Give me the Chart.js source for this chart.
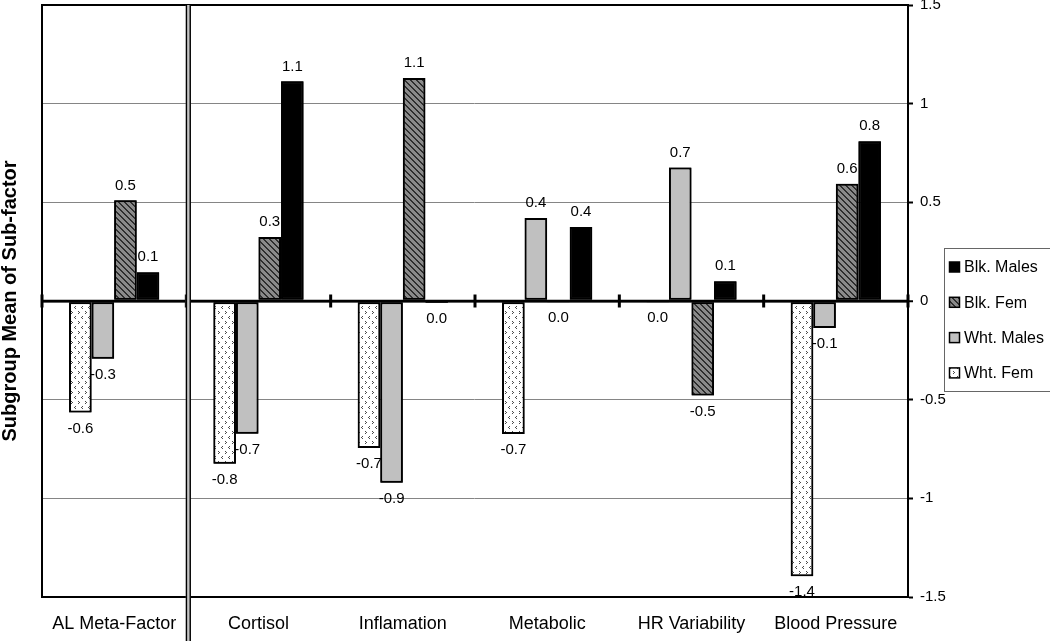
<!DOCTYPE html>
<html><head><meta charset="utf-8">
<script src="https://cdn.jsdelivr.net/npm/chart.js@4/dist/chart.umd.min.js"></script>
<style>html,body{margin:0;padding:0;background:#fff;}</style>
</head><body>
<canvas id="c" width="1050" height="641"></canvas>
<script>
// ---- data ----
const categories = ['AL Meta-Factor', 'Cortisol', 'Inflamation', 'Metabolic', 'HR Variability', 'Blood Pressure'];
const whtFem   = [-0.565, -0.825, -0.745, -0.674, -0.002, -1.395];
const whtMales = [-0.293, -0.673, -0.921,  0.421,  0.676, -0.137];
const blkFem   = [ 0.51,   0.324,  1.13,  -0.005, -0.479,  0.594];
const blkMales = [ 0.146,  1.113, -0.01,   0.375,  0.1,    0.81];
const yTicks = [-1.5, -1, -0.5, 0, 0.5, 1, 1.5];
const legendOrder = ['Blk. Males', 'Blk. Fem', 'Wht. Males', 'Wht. Fem'];
const yTitle = 'Subgroup Mean of Sub-factor';

const FAMILY = '"Liberation Sans", Arial, Helvetica, sans-serif';
const canvas = document.getElementById('c');
const ctx0 = canvas.getContext('2d');

function makePattern(w, h, draw) {
  const t = document.createElement('canvas');
  t.width = w; t.height = h;
  const g = t.getContext('2d');
  draw(g, w, h);
  return ctx0.createPattern(t, 'repeat');
}
// white with small chevrons
const patWF = makePattern(7, 10, (g, w, h) => {
  g.fillStyle = '#fff'; g.fillRect(0, 0, w, h);
  g.fillStyle = '#4a4a4a';
  g.fillRect(1, 1, 1, 1); g.fillRect(2, 2, 1, 1); g.fillRect(1, 3, 1, 1);
  g.fillRect(5, 6, 1, 1); g.fillRect(4, 7, 1, 1); g.fillRect(5, 8, 1, 1);
});
// gray with dark "\" stripes
const patBF = makePattern(6, 6, (g, w, h) => {
  g.fillStyle = '#8a8a8a'; g.fillRect(0, 0, w, h);
  g.fillStyle = '#2e2e2e';
  for (let yy = 0; yy < h; yy++) for (let xx = 0; xx < w; xx++) {
    const d = ((xx - yy) % 6 + 6) % 6;
    if (d === 0 || d === 1) g.fillRect(xx, yy, 1, 1);
  }
});

function fmt(v) {
  let s = v.toFixed(1);
  if (s === '-0.0') s = '0.0';
  return s;
}

const customPlugin = {
  id: 'custom',
  afterDatasetsDraw(chart) {
    const { ctx, chartArea: a, scales: { x, y } } = chart;
    const n = chart.data.datasets.length;
    ctx.save();
    for (let i = 0; i < n; i++) {
      const meta = chart.getDatasetMeta(i);
      meta.controller.draw();
      ctx.font = '15px ' + FAMILY;
      ctx.fillStyle = '#000';
      ctx.textAlign = 'center';
      ctx.textBaseline = 'middle';
      meta.data.forEach((el, j) => {
        const v = chart.data.datasets[i].data[j];
        const yy = v >= 0 ? el.y - 15 : el.y + 16;
        ctx.fillText(fmt(v), el.x, yy);
      });
    }
    // zero line with category ticks
    const y0 = y.getPixelForValue(0);
    ctx.strokeStyle = '#000';
    ctx.lineWidth = 2.5;
    ctx.beginPath(); ctx.moveTo(a.left, y0); ctx.lineTo(a.right, y0); ctx.stroke();
    const step = x.getPixelForValue(1) - x.getPixelForValue(0);
    ctx.lineWidth = 3;
    for (let k = 0; k <= categories.length; k++) {
      const bx = x.getPixelForValue(0) - step / 2 + k * step;
      ctx.beginPath(); ctx.moveTo(bx, y0 - 6.5); ctx.lineTo(bx, y0 + 6.5); ctx.stroke();
    }
    ctx.restore();
  },
  afterDraw(chart) {
    const { ctx, chartArea: a, scales: { x } } = chart;
    ctx.save();
    // plot border
    ctx.strokeStyle = '#000';
    ctx.lineWidth = 2;
    ctx.strokeRect(a.left, a.top, a.right - a.left, a.bottom - a.top);
    // double separator line after first category
    const step = x.getPixelForValue(1) - x.getPixelForValue(0);
    const sx = x.getPixelForValue(0) + step / 2 + 2;
    ctx.fillStyle = '#c4c4c4';
    ctx.fillRect(sx - 2.5, a.top, 5, chart.height - a.top);
    ctx.fillStyle = '#000';
    ctx.fillRect(sx - 2.6, a.top, 1.4, chart.height - a.top);
    ctx.fillRect(sx + 1.2, a.top, 1.4, chart.height - a.top);
    // y title (left)
    ctx.translate(10, (a.top + a.bottom) / 2);
    ctx.rotate(-Math.PI / 2);
    ctx.font = 'bold 20px ' + FAMILY;
    ctx.fillStyle = '#000';
    ctx.textAlign = 'center';
    ctx.textBaseline = 'middle';
    ctx.fillText(yTitle, 0, 0);
    ctx.setTransform(1, 0, 0, 1, 0, 0);
    // legend
    const lx = a.right + 36, ly = 248, lw = 106, lh = 143;
    ctx.strokeStyle = '#666';
    ctx.lineWidth = 1;
    ctx.strokeRect(lx + 0.5, ly + 0.5, lw, lh);
    ctx.font = '16px ' + FAMILY;
    ctx.textAlign = 'left';
    ctx.textBaseline = 'middle';
    legendOrder.forEach((name, k) => {
      const ds = chart.data.datasets.find(d => d.label === name);
      const cy = ly + 19 + k * 35.3;
      ctx.fillStyle = ds.backgroundColor;
      ctx.fillRect(lx + 5.5, cy - 5, 10, 10);
      ctx.strokeStyle = '#000';
      ctx.lineWidth = 1.5;
      ctx.strokeRect(lx + 5.5, cy - 5, 10, 10);
      ctx.fillStyle = '#000';
      ctx.fillText(name, lx + 20, cy + 1);
    });
    ctx.restore();
  }
};

new Chart(canvas, {
  type: 'bar',
  data: {
    labels: categories,
    datasets: [
      { label: 'Wht. Fem', data: whtFem, backgroundColor: patWF },
      { label: 'Wht. Males', data: whtMales, backgroundColor: '#c0c0c0' },
      { label: 'Blk. Fem', data: blkFem, backgroundColor: patBF },
      { label: 'Blk. Males', data: blkMales, backgroundColor: '#000' }
    ]
  },
  options: {
    responsive: false,
    animation: false,
    devicePixelRatio: 1,
    layout: { padding: { left: 42, top: 5, right: 0, bottom: 0 } },
    datasets: { bar: { borderColor: '#000', borderWidth: 2, borderSkipped: false, categoryPercentage: 0.625, barPercentage: 1 } },
    plugins: { legend: { display: false }, tooltip: { enabled: false } },
    scales: {
      x: {
        grid: { display: false, drawTicks: false },
        border: { display: false },
        ticks: { color: '#000', font: { size: 18, family: FAMILY }, padding: 16, maxRotation: 0, autoSkip: false },
        afterFit(s) { s.height = 44; s.paddingLeft = 0; s.paddingRight = 0; }
      },
      y: {
        position: 'right',
        min: -1.5, max: 1.5,
        afterBuildTicks(s) { s.ticks = yTicks.map(v => ({ value: v })); },
        grid: {
          color: c => (c.tick && Math.abs(c.tick.value) === 1.5) ? '#000' : (c.tick && c.tick.value === 0 ? '#000' : '#858585'),
          lineWidth: c => (c.tick && c.tick.value === 0) ? 2.5 : 1,
          tickColor: '#000', tickLength: 5, tickWidth: 2
        },
        border: { display: true, color: '#000', width: 2 },
        ticks: { color: '#000', font: { size: 15, family: FAMILY }, padding: 7, callback: v => String(v) },
        afterFit(s) { s.width = 142; s.paddingTop = 0; s.paddingBottom = 0; }
      }
    }
  },
  plugins: [customPlugin]
});
</script>
</body></html>
